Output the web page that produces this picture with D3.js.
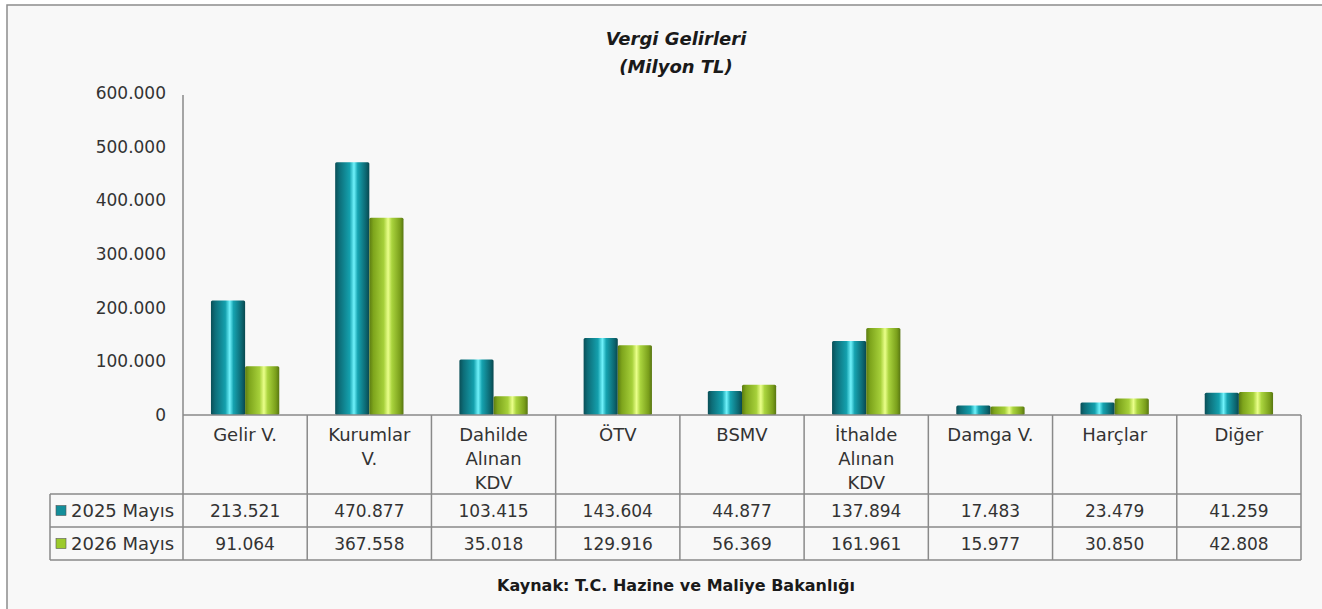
<!DOCTYPE html>
<html><head><meta charset="utf-8">
<script src="https://cdn.jsdelivr.net/npm/d3@7"></script>
<style>
html,body{margin:0;padding:0;background:#fff;}
svg{display:block;font-family:"DejaVu Sans",sans-serif;}
</style></head>
<body>
<svg id="chart" width="1322" height="609"></svg>
<script>
const categories = [["Gelir V."],["Kurumlar","V."],["Dahilde","Alınan","KDV"],["ÖTV"],["BSMV"],["İthalde","Alınan","KDV"],["Damga V."],["Harçlar"],["Diğer"]];
const seriesNames = ["2025 Mayıs","2026 Mayıs"];
const values2025 = [213521,470877,103415,143604,44877,137894,17483,23479,41259];
const values2026 = [91064,367558,35018,129916,56369,161961,15977,30850,42808];
const yTicks = [0,100000,200000,300000,400000,500000,600000];
const titleLines = ["Vergi Gelirleri","(Milyon TL)"];
const sourceText = "Kaynak: T.C. Hazine ve Maliye Bakanlığı";

const svg = d3.select("#chart");
const tr = d3.formatLocale({decimal:",",thousands:".",grouping:[3],currency:["","TL"]});
const fmt = tr.format(",d");

// background frame
svg.append("rect").attr("x",0).attr("y",0).attr("width",1322).attr("height",609).attr("fill","#ffffff");
svg.append("rect").attr("x",7).attr("y",5).attr("width",1330).attr("height",620)
  .attr("fill","#f8f8f8").attr("stroke","#8c8c8c").attr("stroke-width",1.5);

const pL = 183, pR = 1301, pT = 93, pB = 415;
const x = d3.scaleBand().domain(d3.range(categories.length)).range([pL,pR]).paddingInner(0).paddingOuter(0);
const y = d3.scaleLinear().domain([0,600000]).range([pB,pT]);

const defs = svg.append("defs");
function grad(id, stops){
  const g = defs.append("linearGradient").attr("id",id).attr("x1","0").attr("x2","1").attr("y1","0").attr("y2","0");
  stops.forEach(s=>g.append("stop").attr("offset",s[0]).attr("stop-color",s[1]));
}
grad("gTeal",[[0,"#0a4f57"],[0.12,"#0d6d78"],[0.42,"#14a0ad"],[0.55,"#70f2fb"],[0.66,"#16a3b0"],[0.9,"#0c6670"],[1,"#09484f"]]);
grad("gGreen",[[0,"#5c7c12"],[0.12,"#7ea51c"],[0.42,"#a6d03a"],[0.55,"#eaff8a"],[0.66,"#aad43e"],[0.9,"#7a9f1b"],[1,"#587612"]]);
const fills = ["url(#gTeal)","url(#gGreen)"];
const legendFills = ["#138e9a","#9cca2c"];

// title
svg.append("g").selectAll("text").data(titleLines).join("text")
  .attr("x",676).attr("y",(d,i)=>45+i*28).attr("text-anchor","middle")
  .attr("font-size",18).attr("font-weight","bold").attr("font-style","italic").attr("fill","#1a1a1a")
  .text(d=>d);

// y axis
const yAxis = d3.axisLeft(y).tickValues(yTicks).tickFormat(d=>d===0?"0":fmt(d)).tickSize(0).tickPadding(17);
const ya = svg.append("g").attr("transform",`translate(${pL},0)`).call(yAxis);
ya.select(".domain").remove();
ya.selectAll("text").attr("font-size",17).attr("fill","#333").attr("font-family","DejaVu Sans");

// bars
const bw = x.bandwidth()*0.275;
const series = [values2025, values2026];
series.forEach((vals,si)=>{
  svg.append("g").selectAll("rect").data(vals).join("rect")
    .attr("x",(d,i)=>x(i)+x.bandwidth()/2 - bw + si*bw)
    .attr("y",d=>y(d))
    .attr("width",bw)
    .attr("height",d=>pB-y(d))
    .attr("rx",1.5)
    .attr("fill",fills[si]);
});

// table / axes lines
const rowY = [pB, 494, 527, 560];
const tableLeft = 50;
const lines = svg.append("g").attr("stroke","#8a8a8a").attr("stroke-width",1.5).attr("fill","none");
lines.append("line").attr("x1",pL).attr("x2",pL).attr("y1",95).attr("y2",rowY[3]);
lines.append("line").attr("x1",pL).attr("x2",pR).attr("y1",pB).attr("y2",pB);
[rowY[1],rowY[2],rowY[3]].forEach(yy=>lines.append("line").attr("x1",tableLeft).attr("x2",pR).attr("y1",yy).attr("y2",yy));
lines.append("line").attr("x1",tableLeft).attr("x2",tableLeft).attr("y1",rowY[1]).attr("y2",rowY[3]);
d3.range(1,categories.length+1).forEach(i=>{
  const xx = i===categories.length? pR : x(i);
  lines.append("line").attr("x1",xx).attr("x2",xx).attr("y1",pB).attr("y2",rowY[3]);
});

// category labels
const cg = svg.append("g").attr("font-size",18).attr("fill","#333").attr("text-anchor","middle");
categories.forEach((lab,i)=>{
  cg.append("text").attr("x",x(i)+x.bandwidth()/2).attr("y",441)
    .selectAll("tspan").data(lab).join("tspan")
    .attr("x",x(i)+x.bandwidth()/2).attr("dy",(d,k)=>k===0?0:24).text(d=>d);
});

// values
series.forEach((vals,si)=>{
  svg.append("g").selectAll("text").data(vals).join("text")
    .attr("x",(d,i)=>x(i)+x.bandwidth()/2)
    .attr("y",(rowY[si+1]+rowY[si+2])/2+6)
    .attr("text-anchor","middle").attr("font-size",17).attr("fill","#333")
    .text(d=>fmt(d));
});

// legend
seriesNames.forEach((n,si)=>{
  const cy = (rowY[si+1]+rowY[si+2])/2;
  svg.append("rect").attr("x",56).attr("y",cy-5).attr("width",10).attr("height",10)
    .attr("fill",legendFills[si]).attr("stroke","#555").attr("stroke-width",0.6);
  svg.append("text").attr("x",71).attr("y",cy+6).attr("font-size",18).attr("fill","#333").text(n);
});

// source
svg.append("text").attr("x",676).attr("y",591).attr("text-anchor","middle")
  .attr("font-size",16).attr("font-weight","bold").attr("fill","#1a1a1a").text(sourceText);
</script>
</body></html>
